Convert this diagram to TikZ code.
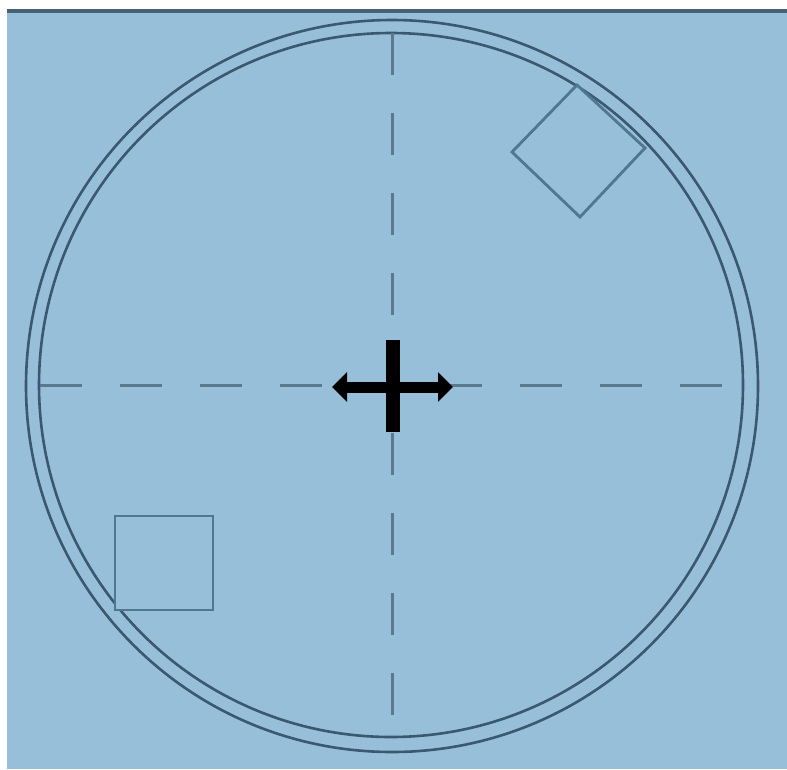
\documentclass[tikz,border=0pt]{standalone}
\usetikzlibrary{arrows.meta}
\definecolor{bgblue}{RGB}{151,191,217}
\definecolor{ringcol}{RGB}{58,88,112}
\definecolor{dashcol}{RGB}{90,120,142}
\definecolor{boxcol}{RGB}{80,118,146}
\definecolor{topbar}{RGB}{72,96,116}
\tikzset{
  ringline/.style={draw=ringcol, line width=2.6pt},
  dashline/.style={draw=dashcol, line width=3pt, dash pattern=on 42pt off 38pt},
  boxline/.style={draw=boxcol, line width=2.8pt, fill=bgblue, line join=miter},
}
\begin{document}
\begin{tikzpicture}[x=1pt,y=-1pt]
\useasboundingbox (0,0) rectangle (787,769);
\fill[white] (0,0) rectangle (787,769);
\fill[bgblue] (7,9) rectangle (787,769);
\fill[topbar] (7,9) rectangle (787,12.5);
% rings
\coordinate (c) at (392,386);
\coordinate (ci) at (391,385);
\draw[ringline] (c) circle[radius=366];
\draw[ringline] (ci) circle[radius=352];
% dashed cross-hairs
\coordinate (vt) at (392,33);
\coordinate (vb) at (392,717);
\coordinate (hl) at (40,385);
\coordinate (hr) at (723,385);
\draw[dashline] (vt) -- (vb);
\draw[dashline] (hl) -- (hr);
% squares
\draw[boxline] (577,85) -- (645,148) -- (580,217) -- (512,152) -- cycle;
\draw[boxline] (115,516) rectangle (213,610);
% central cross
\coordinate (bt) at (392.5,340);
\coordinate (bb) at (392.5,432);
\coordinate (al) at (332,387);
\coordinate (ar) at (453,387);
\draw[black, line width=11pt, {Triangle[length=15pt,width=29pt]}-{Triangle[length=15pt,width=29pt]}] (al) -- (ar);
\draw[black, line width=14pt] (bt) -- (bb);
\end{tikzpicture}
\end{document}
